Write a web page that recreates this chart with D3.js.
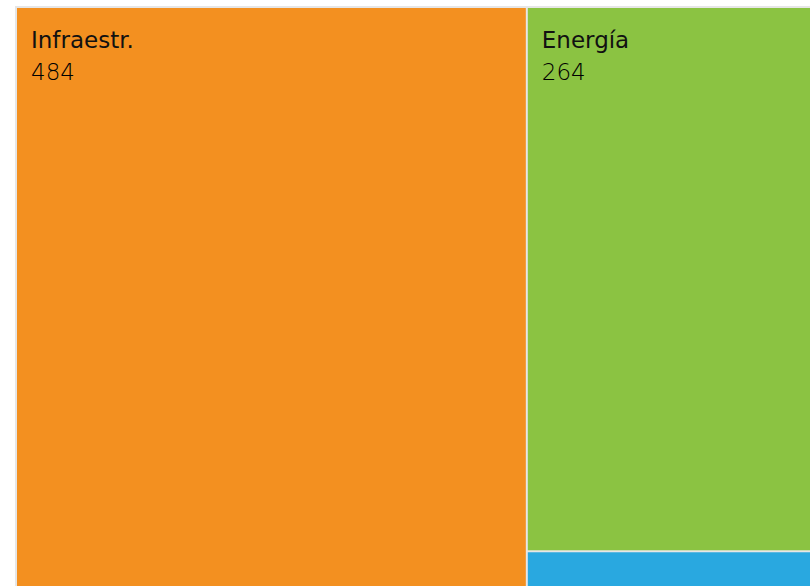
<!DOCTYPE html>
<html><head><meta charset="utf-8">
<script src="https://cdn.jsdelivr.net/npm/d3@7"></script>
<style>html,body{margin:0;padding:0;background:#fff;overflow:hidden}</style>
</head><body>
<svg id="chart" width="810" height="586"></svg>
<script>
const categories = ["Infraestr.", "Energía", "Agua"];
const values = [484, 264, 28];
const colors = ["#F39020", "#8BC342", "#29A8E0"];

const svg = d3.select("#chart");
const W = 821, H = 604;
const g = svg.append("g").attr("transform", "translate(15,6)");
g.append("rect").attr("width", W).attr("height", H).attr("fill", "#E6E6E6");

const root = d3.hierarchy({children: categories.map((c, i) => ({name: c, value: values[i], color: colors[i]}))})
  .sum(d => d.value || 0)
  .sort((a, b) => b.value - a.value);

d3.treemap().tile(d3.treemapSquarify).size([W, H]).paddingOuter(2).paddingInner(2)(root);

const leaf = g.selectAll("g.leaf").data(root.leaves()).join("g").attr("class", "leaf")
  .attr("transform", d => `translate(${d.x0},${d.y0})`);
leaf.append("rect")
  .attr("width", d => d.x1 - d.x0).attr("height", d => d.y1 - d.y0)
  .attr("fill", d => d.data.color);
const lab = leaf.filter(d => d.y1 - d.y0 > 100);
lab.append("text").attr("x", 14).attr("y", 39.5)
  .style("font-family", "'DejaVu Sans', sans-serif").style("font-size", "23px").attr("fill", "#111")
  .text(d => d.data.name);
lab.append("text").attr("x", 14).attr("y", 71.5)
  .style("font-family", "'DejaVu Sans', sans-serif").style("font-size", "23px").style("font-weight", 300).attr("fill", "#000")
  .text(d => d3.format("d")(d.value));
</script>
</body></html>
